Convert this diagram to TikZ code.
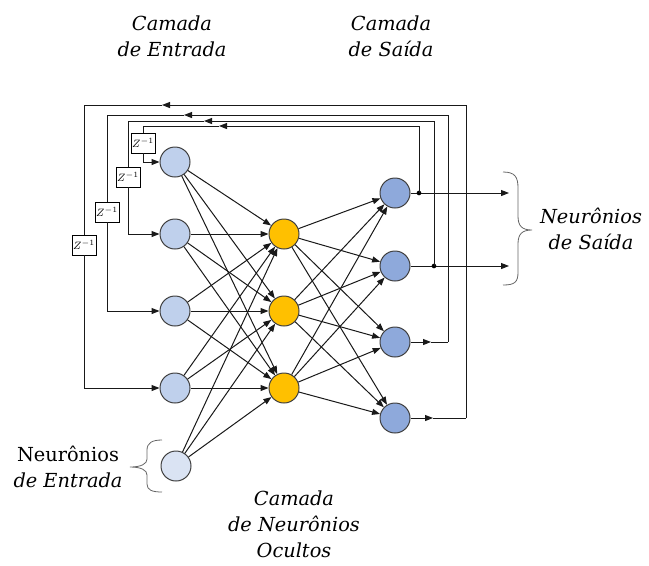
\documentclass[tikz,border=0pt]{standalone}
\usepackage{fontspec}
\setmainfont{DejaVu Serif}
\usetikzlibrary{arrows.meta}
\definecolor{inblue}{HTML}{BFD0EC}
\definecolor{inpale}{HTML}{DAE3F3}
\definecolor{hidorange}{HTML}{FFC000}
\definecolor{outblue}{HTML}{8EA9DB}
\tikzset{
  neuron/.style={circle, draw=black!75, line width=0.75pt, minimum size=22.5pt, inner sep=0pt},
  inn/.style={neuron, fill=inblue},
  inp/.style={neuron, fill=inpale},
  hid/.style={neuron, fill=hidorange},
  outn/.style={neuron, fill=outblue},
  conn/.style={line width=0.75pt, draw=black!90},
  arr/.style={-{Triangle[length=6pt,width=4.5pt]}},
  zbox/.style={draw, fill=white, line width=0.6pt, minimum width=18pt, minimum height=15pt, inner sep=0pt, font=\fontsize{8}{9}\selectfont},
  lbl/.style={font=\fontsize{14.5}{19.5}\selectfont\itshape, align=center, inner sep=0pt},
  dotn/.style={circle, fill=black, minimum size=3.5pt, inner sep=0pt}
}
\begin{document}
\begin{tikzpicture}[x=0.75pt,y=-0.75pt]
\useasboundingbox (0,0) rectangle (649,565);

% neurons
\node[inn] (in1) at (175,162) {};
\node[inn] (in2) at (175,234) {};
\node[inn] (in3) at (175,311) {};
\node[inn] (in4) at (175,388) {};
\node[inp] (in5) at (176,466) {};
\node[hid] (h1) at (284,234) {};
\node[hid] (h2) at (284,311) {};
\node[hid] (h3) at (284,388) {};
\node[outn] (o1) at (395,193) {};
\node[outn] (o2) at (395,266) {};
\node[outn] (o3) at (395,342) {};
\node[outn] (o4) at (395,418) {};

% delay boxes
\node[zbox] (z1) at (143,143) {$Z^{-1}$};
\node[zbox] (z2) at (128,177) {$Z^{-1}$};
\node[zbox] (z3) at (107,212) {$Z^{-1}$};
\node[zbox] (z4) at (84,245) {$Z^{-1}$};

% feed-forward connections
\foreach \i in {1,...,5}
  \foreach \j in {1,2,3}
    \draw[conn,arr] (in\i) -- (h\j);
\foreach \i in {1,2,3}
  \foreach \j in {1,...,4}
    \draw[conn,arr] (h\i) -- (o\j);

% coordinates
\coordinate (d1) at (419,193);
\coordinate (d2) at (434,266);
\coordinate (e1) at (509,193);
\coordinate (e2) at (509,266);
\coordinate (b3) at (431,342);
\coordinate (c3) at (448,342);
\coordinate (b4) at (433,418);
\coordinate (c4) at (466,418);
\coordinate (a1) at (219,126);
\coordinate (a2) at (204,121);
\coordinate (a3) at (184,115);
\coordinate (a4) at (162,105);

% outputs
\draw[conn] (o1.east) -- (d1);
\draw[conn,arr] (d1) -- (e1);
\draw[conn] (o2.east) -- (d2);
\draw[conn,arr] (d2) -- (e2);
\node[dotn] at (d1) {};
\node[dotn] at (d2) {};

% feedback loop 1
\draw[conn,arr] (d1) |- (a1);
\draw[conn] (a1) -| (z1.north);
\draw[conn,arr] (z1.south) |- (in1.west);
% loop 2
\draw[conn,arr] (d2) |- (a2);
\draw[conn] (a2) -| (z2.north);
\draw[conn,arr] (z2.south) |- (in2.west);
% loop 3
\draw[conn,arr] (o3.east) -- (b3);
\draw[conn] (b3) -- (c3);
\draw[conn,arr] (c3) |- (a3);
\draw[conn] (a3) -| (z3.north);
\draw[conn,arr] (z3.south) |- (in3.west);
% loop 4
\draw[conn,arr] (o4.east) -- (b4);
\draw[conn] (b4) -- (c4);
\draw[conn,arr] (c4) |- (a4);
\draw[conn] (a4) -| (z4.north);
\draw[conn,arr] (z4.south) |- (in4.west);

% braces
\draw[line width=0.6pt, draw=black!60] (503,172) .. controls (515,172) and (518,177) .. (518,188) -- (518,216) .. controls (518,226) and (522,230) .. (532,230) .. controls (522,230) and (518,234) .. (518,244) -- (518,272) .. controls (518,282) and (515,285) .. (503,285);
\draw[line width=0.6pt, draw=black!60] (162,440) .. controls (152,440) and (147,443) .. (147,450) -- (147,459) .. controls (147,464) and (141,467) .. (130,467) .. controls (141,467) and (147,470) .. (147,475) -- (147,484) .. controls (147,490) and (152,492) .. (162,492);

% labels
\node[lbl] (tl) at (172,36) {Camada\\de Entrada};
\node[lbl] (tr) at (391,36) {Camada\\de Saída};
\node[lbl] (rs) at (591,229) {Neurônios\\de Saída};
\node[lbl] (le) at (68,467) {{\upshape Neurônios}\\de Entrada};
\node[lbl] (bt) at (294,524) {Camada\\de Neurônios\\Ocultos};
\end{tikzpicture}
\end{document}
